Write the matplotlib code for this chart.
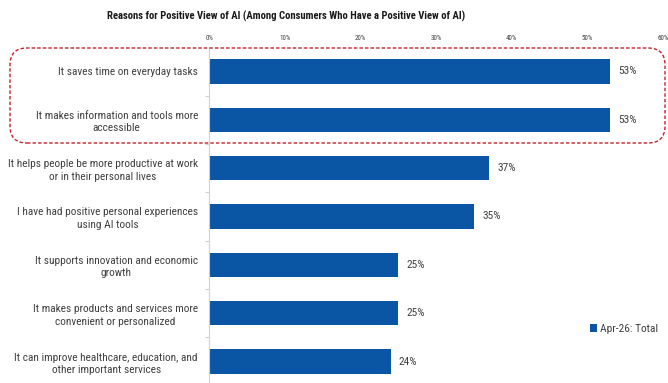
import matplotlib
matplotlib.use("Agg")
import matplotlib.pyplot as plt
from matplotlib.patches import FancyBboxPatch
from matplotlib.ticker import FixedLocator
from matplotlib import font_manager

reasons = [
    "It saves time on everyday tasks",
    "It makes information and tools more\naccessible",
    "It helps people be more productive at work\nor in their personal lives",
    "I have had positive personal experiences\nusing AI tools",
    "It supports innovation and economic\ngrowth",
    "It makes products and services more\nconvenient or personalized",
    "It can improve healthcare, education, and\nother important services",
]
share_pct = [53, 53, 37, 35, 25, 25, 24]
x_ticks = [0, 10, 20, 30, 40, 50, 60]
series_name = "Apr-26: Total"
title = "Reasons for Positive View of AI (Among Consumers Who Have a Positive View of AI)"

names = {f.name for f in font_manager.fontManager.ttflist}
if "Roboto Condensed" in names:
    FAMILY, LBL, TTL = "Roboto Condensed", 8.2, 7.7
elif "Liberation Sans Narrow" in names:
    FAMILY, LBL, TTL = "Liberation Sans Narrow", 8.2, 7.7
else:
    FAMILY, LBL, TTL = "Roboto", 6.8, 6.5
plt.rcParams["font.family"] = [FAMILY, "DejaVu Sans"]

BAR = "#0B56A4"
TXT = "#404040"

fig = plt.figure(figsize=(6.68, 3.83), dpi=100)
ax = fig.add_axes([209 / 668, -0.007, (663 - 209) / 668, 0.8836])

ypos = list(range(len(reasons)))
bars = ax.barh(ypos, share_pct, height=0.5, color=BAR, label=series_name)
ax.set_ylim(len(reasons) - 0.5, -0.5)
ax.set_xlim(0, 60)

for b, v in zip(bars, share_pct):
    ax.text(b.get_width() + 1.1, b.get_y() + b.get_height() / 2, f"{v}%",
            va="center", ha="left", fontsize=LBL, color=TXT)

ax.xaxis.tick_top()
ax.set_xticks(x_ticks)
ax.set_xticklabels([f"{t}%" for t in x_ticks], fontsize=5, color=TXT)
ax.tick_params(axis="x", length=0, pad=4)

ax.set_yticks(ypos)
ax.set_yticklabels(reasons, fontsize=LBL, color=TXT, multialignment="center",
                   linespacing=1.3)
ax.tick_params(axis="y", which="major", length=0, pad=8)
ax.yaxis.set_minor_locator(FixedLocator([i + 0.5 for i in range(len(reasons) - 1)]))
ax.tick_params(axis="y", which="minor", length=3, color="#d0d0d0", width=0.8)

for s in ("top", "right", "bottom"):
    ax.spines[s].set_visible(False)
ax.spines["left"].set_color("#d0d0d0")
ax.spines["left"].set_linewidth(0.8)

leg = fig.legend(loc="center left", bbox_to_anchor=(590 / 668, 1 - 329 / 383),
                 frameon=False, fontsize=LBL, handlelength=0.6, handleheight=0.6,
                 handletextpad=0.25, borderaxespad=0, borderpad=0)
for t in leg.get_texts():
    t.set_color(TXT)

fig.text(286 / 668, 1 - 16 / 383, title, ha="center", va="center",
         fontsize=TTL, fontweight="bold", color="#1a1a1a")

# highlight the two leading reasons
box = FancyBboxPatch((0.10, (383 - 143) / 100), 6.55, 0.95,
                     boxstyle="round,pad=0,rounding_size=0.17",
                     transform=fig.dpi_scale_trans, fill=False,
                     edgecolor="#C0242B", linewidth=1.0, linestyle=(0, (2.5, 1.5)),
                     clip_on=False, zorder=5)
fig.add_artist(box)

fig.savefig("out.png", dpi=100)
